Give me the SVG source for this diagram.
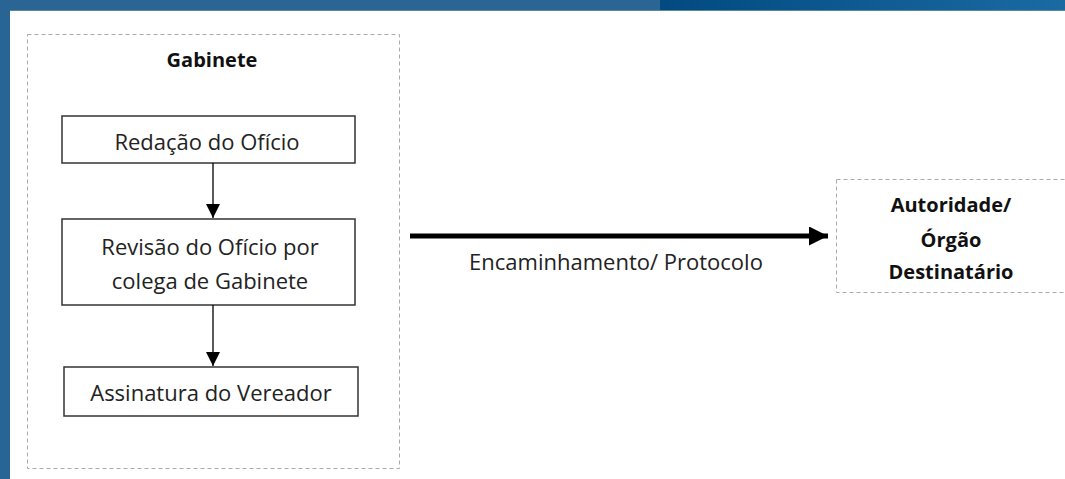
<svg xmlns="http://www.w3.org/2000/svg" width="1065" height="479" viewBox="0 0 1065 479">
<defs>
<linearGradient id="topg" x1="0" y1="0" x2="1" y2="0">
<stop offset="0" stop-color="#024a80"/>
<stop offset="1" stop-color="#1b6aa2"/>
</linearGradient>
<marker id="ah" viewBox="0 0 10 10" refX="10" refY="5" markerWidth="14" markerHeight="14" markerUnits="userSpaceOnUse" orient="auto">
<path d="M0,0 L10,5 L0,10 Z" fill="#000"/>
</marker>
<marker id="ahb" viewBox="0 0 10 10" refX="10" refY="5" markerWidth="4.2" markerHeight="3.8" orient="auto">
<path d="M0,0 L10,5 L0,10 Z" fill="#000"/>
</marker>
</defs>
<style>
.t{font-family:"Open Sans","Noto Sans",sans-serif;font-size:22px;fill:#222;text-anchor:middle}
.b{font-family:"Open Sans","Noto Sans",sans-serif;font-size:20px;font-weight:bold;fill:#111;text-anchor:middle}
.box{fill:#fff;stroke:#333;stroke-width:1.5}
.dash{fill:none;stroke:#aaa;stroke-width:1;stroke-dasharray:4,3}
</style>
<rect width="1065" height="479" fill="#fff"/>
<rect x="0" y="0" width="660" height="10" fill="#2a6594"/>
<rect x="660" y="0" width="405" height="10" fill="url(#topg)"/>
<rect x="0" y="10" width="1065" height="1" fill="#5a8a98"/>
<rect x="0" y="0" width="10" height="479" fill="#286494"/>
<g id="gabinete">
<rect class="dash" x="27.5" y="34.5" width="372" height="434"/>
<text class="b" x="212" y="67">Gabinete</text>
</g>
<g id="redacao">
<rect class="box" x="62" y="116" width="293" height="47"/>
<text class="t" x="207" y="150">Redação do Ofício</text>
</g>
<g id="revisao">
<rect class="box" x="62" y="219" width="293" height="86"/>
<text class="t" x="210" y="255">Revisão do Ofício por</text>
<text class="t" x="210" y="289">colega de Gabinete</text>
</g>
<g id="assinatura">
<rect class="box" x="64" y="367" width="294" height="49"/>
<text class="t" x="211" y="401">Assinatura do Vereador</text>
</g>
<g id="autoridade">
<rect class="dash" x="836.5" y="179.5" width="232" height="113"/>
<text class="b" x="951" y="212">Autoridade/</text>
<text class="b" x="951" y="247">Órgão</text>
<text class="b" x="951" y="279">Destinatário</text>
</g>
<g id="connectors">
<line x1="213" y1="163" x2="213" y2="218" stroke="#000" stroke-width="1.3" marker-end="url(#ah)"/>
<line x1="213" y1="305" x2="213" y2="366" stroke="#000" stroke-width="1.3" marker-end="url(#ah)"/>
<line x1="410" y1="236" x2="828" y2="236" stroke="#000" stroke-width="5" marker-end="url(#ahb)"/>
<text class="t" x="616" y="270">Encaminhamento/ Protocolo</text>
</g>
</svg>
